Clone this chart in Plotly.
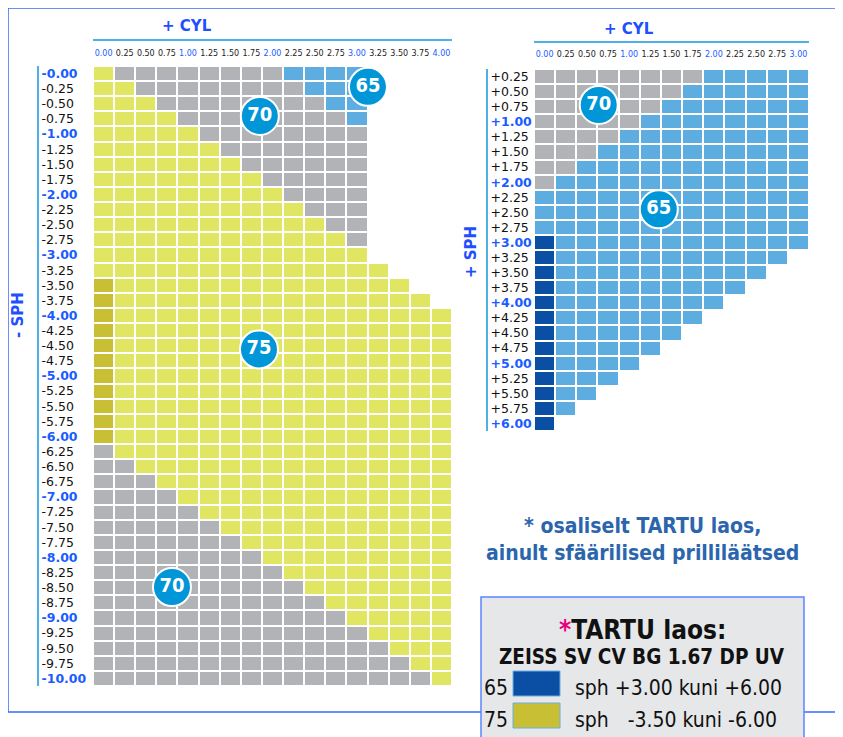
import plotly.graph_objects as go

# page offset of the figure (browser body margin) and figure size
OFF = 8
FW, FH = 843 - OFF, 737 - OFF

# ---------------- data ----------------
CYL_LEFT = [0.00, 0.25, 0.50, 0.75, 1.00, 1.25, 1.50, 1.75, 2.00, 2.25, 2.50, 2.75,
            3.00, 3.25, 3.50, 3.75, 4.00]
CYL_LEFT_LABELS = ["0.00", "0.25", "0.50", "0.75", "1.00", "1.25", "1.50", "1.75", "2.00",
                   "2.25", "2.50", "2.75", "3.00", "3.25", "3.50", "3.75", "4.00"]
SPH_LEFT = [-0.00, -0.25, -0.50, -0.75, -1.00, -1.25, -1.50, -1.75, -2.00, -2.25, -2.50,
            -2.75, -3.00, -3.25, -3.50, -3.75, -4.00, -4.25, -4.50, -4.75, -5.00, -5.25,
            -5.50, -5.75, -6.00, -6.25, -6.50, -6.75, -7.00, -7.25, -7.50, -7.75, -8.00,
            -8.25, -8.50, -8.75, -9.00, -9.25, -9.50, -9.75, -10.00]
SPH_LEFT_LABELS = ["-0.00", "-0.25", "-0.50", "-0.75", "-1.00", "-1.25", "-1.50", "-1.75",
                   "-2.00", "-2.25", "-2.50", "-2.75", "-3.00", "-3.25", "-3.50", "-3.75",
                   "-4.00", "-4.25", "-4.50", "-4.75", "-5.00", "-5.25", "-5.50", "-5.75",
                   "-6.00", "-6.25", "-6.50", "-6.75", "-7.00", "-7.25", "-7.50", "-7.75",
                   "-8.00", "-8.25", "-8.50", "-8.75", "-9.00", "-9.25", "-9.50", "-9.75",
                   "-10.00"]
# G = index 70, Y = index 75, B = index 65, D = 75 in stock, N = 65 in stock, . = none
LEFT_ROWS = [
    "YGGGGGGGGBBBB....",
    "YYGGGGGGGGBBB....",
    "YYYGGGGGGGGBB....",
    "YYYYGGGGGGGGB....",
    "YYYYYGGGGGGGG....",
    "YYYYYYGGGGGGG....",
    "YYYYYYYGGGGGG....",
    "YYYYYYYYGGGGG....",
    "YYYYYYYYYGGGG....",
    "YYYYYYYYYYGGG....",
    "YYYYYYYYYYYGG....",
    "YYYYYYYYYYYYG....",
    "YYYYYYYYYYYYY....",
    "YYYYYYYYYYYYYY...",
    "DYYYYYYYYYYYYYY..",
    "DYYYYYYYYYYYYYYY.",
    "DYYYYYYYYYYYYYYYY",
    "DYYYYYYYYYYYYYYYY",
    "DYYYYYYYYYYYYYYYY",
    "DYYYYYYYYYYYYYYYY",
    "DYYYYYYYYYYYYYYYY",
    "DYYYYYYYYYYYYYYYY",
    "DYYYYYYYYYYYYYYYY",
    "DYYYYYYYYYYYYYYYY",
    "DYYYYYYYYYYYYYYYY",
    "GYYYYYYYYYYYYYYYY",
    "GGYYYYYYYYYYYYYYY",
    "GGGYYYYYYYYYYYYYY",
    "GGGGYYYYYYYYYYYYY",
    "GGGGGYYYYYYYYYYYY",
    "GGGGGGYYYYYYYYYYY",
    "GGGGGGGYYYYYYYYYY",
    "GGGGGGGGYYYYYYYYY",
    "GGGGGGGGGYYYYYYYY",
    "GGGGGGGGGGYYYYYYY",
    "GGGGGGGGGGGYYYYYY",
    "GGGGGGGGGGGGYYYYY",
    "GGGGGGGGGGGGGYYYY",
    "GGGGGGGGGGGGGGYYY",
    "GGGGGGGGGGGGGGGYY",
    "GGGGGGGGGGGGGGGGY",
]

CYL_RIGHT = [0.00, 0.25, 0.50, 0.75, 1.00, 1.25, 1.50, 1.75, 2.00, 2.25, 2.50, 2.75, 3.00]
CYL_RIGHT_LABELS = ["0.00", "0.25", "0.50", "0.75", "1.00", "1.25", "1.50", "1.75", "2.00",
                    "2.25", "2.50", "2.75", "3.00"]
SPH_RIGHT = [0.25, 0.50, 0.75, 1.00, 1.25, 1.50, 1.75, 2.00, 2.25, 2.50, 2.75, 3.00, 3.25,
             3.50, 3.75, 4.00, 4.25, 4.50, 4.75, 5.00, 5.25, 5.50, 5.75, 6.00]
SPH_RIGHT_LABELS = ["+0.25", "+0.50", "+0.75", "+1.00", "+1.25", "+1.50", "+1.75", "+2.00",
                    "+2.25", "+2.50", "+2.75", "+3.00", "+3.25", "+3.50", "+3.75", "+4.00",
                    "+4.25", "+4.50", "+4.75", "+5.00", "+5.25", "+5.50", "+5.75", "+6.00"]
RIGHT_ROWS = [
    "GGGGGGGGBBBBB",
    "GGGGGGGBBBBBB",
    "GGGGGGBBBBBBB",
    "GGGGGBBBBBBBB",
    "GGGGBBBBBBBBB",
    "GGGBBBBBBBBBB",
    "GGBBBBBBBBBBB",
    "GBBBBBBBBBBBB",
    "BBBBBBBBBBBBB",
    "BBBBBBBBBBBBB",
    "BBBBBBBBBBBBB",
    "NBBBBBBBBBBBB",
    "NBBBBBBBBBBB.",
    "NBBBBBBBBBB..",
    "NBBBBBBBBB...",
    "NBBBBBBBB....",
    "NBBBBBBB.....",
    "NBBBBBB......",
    "NBBBBB.......",
    "NBBBB........",
    "NBBB.........",
    "NBB..........",
    "NB...........",
    "N............",
]

# index badges (label, cyl, sph)
BADGES_LEFT = [("65", 3.13, -0.22), ("70", 1.85, -0.70), ("75", 1.84, -4.56), ("70", 0.81, -8.49)]
BADGES_RIGHT = [("70", 0.64, 0.72), ("65", 1.35, 2.45)]

# ---------------- styling ----------------
CODE = {"G": 1, "Y": 2, "B": 3, "D": 4, "N": 5, ".": None}
COLORS = ["#b1b3b6", "#e0e562", "#5eade0", "#c9bf35", "#0a4fa3"]
colorscale = []
for i, c in enumerate(COLORS):
    colorscale.append([i / len(COLORS), c])
    colorscale.append([(i + 1) / len(COLORS), c])

TICK_BLUE = "#1a5cff"
TITLE_BLUE = "#1f4fff"
LINE_BLUE = "#4fb0e8"
FONT = "DejaVu Sans"
COND = "DejaVu Sans Condensed"


def px(x):
    return (x - OFF) / FW


def py(y):
    return 1 - (y - OFF) / FH


def is_int(v):
    return abs(v - round(v)) < 1e-9


def xtext(vals, labels):
    return [f"<span style='color:{TICK_BLUE}'>{l}</span>" if is_int(v) else l
            for v, l in zip(vals, labels)]


def ytext(vals, labels):
    return [f"<span style='color:{TICK_BLUE}'><b>{l}</b></span>" if is_int(v) else l
            for v, l in zip(vals, labels)]


def zmat(rows):
    return [[CODE[ch] for ch in r] for r in rows]


fig = go.Figure()

fig.add_trace(go.Heatmap(
    x=CYL_LEFT, y=SPH_LEFT, z=zmat(LEFT_ROWS), xaxis="x", yaxis="y",
    colorscale=colorscale, zmin=0.5, zmax=5.5, showscale=False,
    xgap=2, ygap=2, hoverinfo="skip"))
fig.add_trace(go.Heatmap(
    x=CYL_RIGHT, y=SPH_RIGHT, z=zmat(RIGHT_ROWS), xaxis="x2", yaxis="y2",
    colorscale=colorscale, zmin=0.5, zmax=5.5, showscale=False,
    xgap=2, ygap=2, hoverinfo="skip"))

for badges, xa, ya in [(BADGES_LEFT, "x", "y"), (BADGES_RIGHT, "x2", "y2")]:
    fig.add_trace(go.Scatter(
        x=[b[1] for b in badges], y=[b[2] for b in badges], text=[b[0] for b in badges],
        xaxis=xa, yaxis=ya, mode="markers+text", textposition="middle center",
        marker=dict(size=38, color="#0096d8", line=dict(color="white", width=2)),
        textfont=dict(family=COND, size=20, color="white", weight="bold"),
        cliponaxis=False, hoverinfo="skip", showlegend=False))

common_x = dict(side="top", anchor="free", showline=True, linecolor=LINE_BLUE, linewidth=1.5,
                ticks="", showgrid=False, zeroline=False, ticklabelposition="inside",
                ticklabeloverflow="allow",
                tickfont=dict(family=FONT, size=8, color="#222"), fixedrange=True)
common_y = dict(side="left", anchor="free", showline=True, linecolor=LINE_BLUE, linewidth=2,
                ticks="", showgrid=False, zeroline=False, ticklabelposition="inside",
                ticklabeloverflow="allow", ticklabelstandoff=2,
                tickfont=dict(family=FONT, size=12.5, color="#111"), fixedrange=True)

fig.update_layout(
    width=FW, height=FH, margin=dict(l=0, r=0, t=0, b=0),
    paper_bgcolor="white", plot_bgcolor="white", showlegend=False,
    xaxis=dict(domain=[px(93), px(452)], range=[-0.125, 4.125], position=py(40),
               ticklabelstandoff=8,
               tickvals=CYL_LEFT, ticktext=xtext(CYL_LEFT, CYL_LEFT_LABELS), **common_x),
    yaxis=dict(domain=[py(686), py(66)], range=[-10.125, 0.125], position=px(38),
               tickvals=SPH_LEFT, ticktext=ytext(SPH_LEFT, SPH_LEFT_LABELS), **common_y),
    xaxis2=dict(domain=[px(534), px(809)], range=[-0.125, 3.125], position=py(42),
                ticklabelstandoff=7,
                tickvals=CYL_RIGHT, ticktext=xtext(CYL_RIGHT, CYL_RIGHT_LABELS), **common_x),
    yaxis2=dict(domain=[py(431), py(69)], range=[6.125, 0.125], position=px(487),
                tickvals=SPH_RIGHT, ticktext=ytext(SPH_RIGHT, SPH_RIGHT_LABELS), **common_y),
)

shapes = [
    dict(type="rect", xref="paper", yref="paper", x0=px(8), x1=px(870), y0=py(712), y1=py(8),
         line=dict(color="#3a6cff", width=1.5), fillcolor="rgba(0,0,0,0)", layer="below"),
    dict(type="rect", xref="paper", yref="paper", x0=px(481), x1=px(804), y0=py(770), y1=py(597),
         line=dict(color="#5a86ff", width=1.5), fillcolor="#e6e7e8", layer="above"),
    dict(type="rect", xref="paper", yref="paper", x0=px(513), x1=px(560), y0=py(696), y1=py(671),
         line=dict(color="#6aaee6", width=1), fillcolor=COLORS[4], layer="above"),
    dict(type="rect", xref="paper", yref="paper", x0=px(513), x1=px(560), y0=py(728), y1=py(703),
         line=dict(color="#6aaee6", width=1), fillcolor=COLORS[3], layer="above"),
]
fig.update_layout(shapes=shapes)


def ann(x, y, text, size, color="#111", weight="normal", family=COND, angle=0, xanchor="center"):
    fig.add_annotation(x=px(x), y=py(y), xref="paper", yref="paper", text=text, showarrow=False,
                       xanchor=xanchor, yanchor="middle", textangle=angle,
                       font=dict(family=family, size=size, color=color, weight=weight))


ann(187, 26, "+ CYL", 15, TITLE_BLUE, "bold", FONT)
ann(629, 29, "+ CYL", 15, TITLE_BLUE, "bold", FONT)
ann(18, 315, "- SPH", 15, TITLE_BLUE, "bold", FONT, angle=-90)
ann(471, 252, "+ SPH", 15, TITLE_BLUE, "bold", FONT, angle=-90)

ann(642, 539, "* osaliselt TARTU laos,<br>ainult sfäärilised prilliläätsed", 21, "#2b66ad", "bold")

ann(642, 630, "<span style='color:#e6007e'>*</span>TARTU laos:", 26, "#111", "bold")
ann(642, 657, "ZEISS SV CV BG 1.67 DP UV", 20.5, "#111", "bold")
ann(482, 688, "65", 21, "#111", xanchor="left")
ann(482, 720, "75", 21, "#111", xanchor="left")
ann(573, 688, "sph +3.00 kuni +6.00", 21, "#111", xanchor="left")
ann(573, 720, "sph\u2002\u2002-3.50 kuni -6.00", 21, "#111", xanchor="left")

fig.write_html("out.html")
